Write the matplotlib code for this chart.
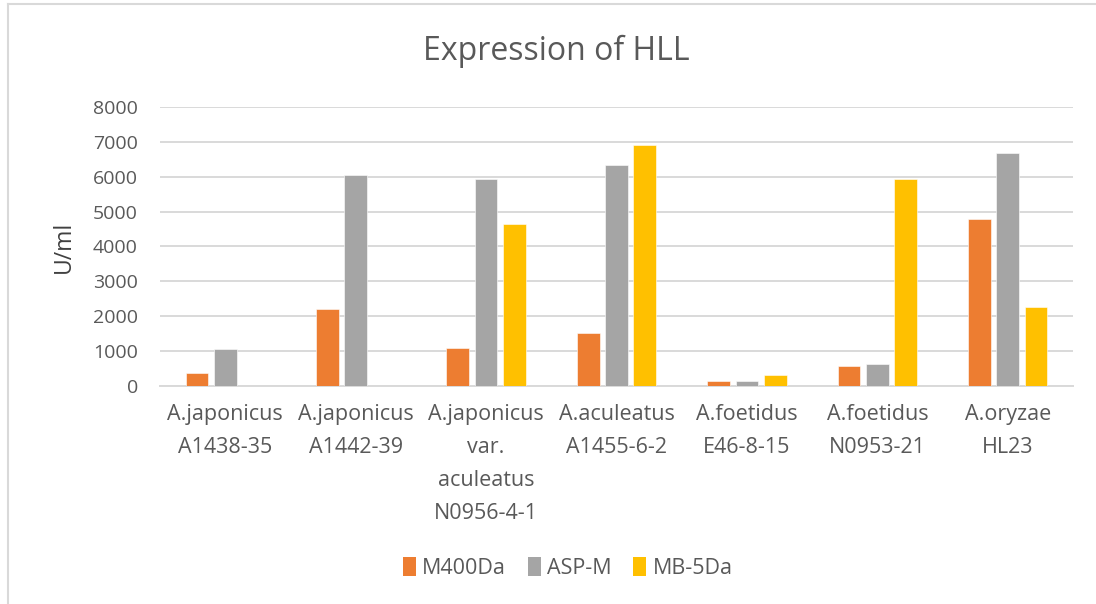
import matplotlib
matplotlib.use("Agg")
import matplotlib.pyplot as plt
from matplotlib.patches import Patch
from matplotlib.lines import Line2D
import numpy as np

categories = [
    "A.japonicus\nA1438-35",
    "A.japonicus\nA1442-39",
    "A.japonicus\nvar.\naculeatus\nN0956-4-1",
    "A.aculeatus\nA1455-6-2",
    "A.foetidus\nE46-8-15",
    "A.foetidus\nN0953-21",
    "A.oryzae\nHL23",
]
m400da = [370, 2210, 1090, 1510, 135, 565, 4800]
asp_m = [1060, 6060, 5920, 6340, 130, 630, 6690]
mb_5da = [0, 0, 4650, 6920, 320, 5920, 2260]

series = [("M400Da", m400da, "#ED7D31"),
          ("ASP-M", asp_m, "#A5A5A5"),
          ("MB-5Da", mb_5da, "#FFC000")]

plt.rcParams["font.family"] = ["Open Sans", "DejaVu Sans"]
text_col = "#595959"
grid_col = "#D9D9D9"

fig = plt.figure(figsize=(10.96, 6.04), dpi=100)
ax = fig.add_axes([0.146, 0.361, 0.833, 0.462])

x = np.arange(len(categories))
w = 0.174
step = 0.217
for k, (name, vals, col) in enumerate(series):
    ax.bar(x + (k - 1) * step, vals, w, color=col, edgecolor="white",
           linewidth=0.4, label=name, zorder=3)

ax.set_xlim(-0.5, len(categories) - 0.5)
ax.set_ylim(0, 8000)
ax.set_yticks(range(0, 8001, 1000))
ax.yaxis.grid(True, color=grid_col, linewidth=1.4, zorder=0)
for s in ["top", "right", "left"]:
    ax.spines[s].set_visible(False)
ax.spines["bottom"].set_color(grid_col)
ax.spines["bottom"].set_linewidth(1.4)
ax.tick_params(axis="both", length=0, colors=text_col)
ax.tick_params(axis="y", labelsize=14, pad=16)
ax.set_xticks(x)
ax.set_xticklabels(categories, fontsize=15.5, linespacing=1.75)
ax.tick_params(axis="x", pad=13)
ax.set_ylabel("U/ml", fontsize=16.5, color="#404040", labelpad=12)

fig.text(0.508, 0.915, "Expression of HLL", ha="center", va="center",
         fontsize=23, color=text_col)

handles = [Patch(facecolor=c, label=n) for n, _, c in series]
fig.legend(handles=handles, loc="center", bbox_to_anchor=(0.518, 0.060),
           ncol=3, frameon=False, fontsize=15.5, labelcolor=text_col,
           handlelength=0.6, handleheight=1.0, handletextpad=0.3,
           columnspacing=1.0)

# chart border (left and top edges visible in the crop)
bx = 8 / 1096
by = 1 - 4 / 604
fig.add_artist(Line2D([bx, bx], [0, by], color=grid_col, lw=1.5))
fig.add_artist(Line2D([bx, 1], [by, by], color=grid_col, lw=1.5))

fig.savefig("out.png", dpi=100)
